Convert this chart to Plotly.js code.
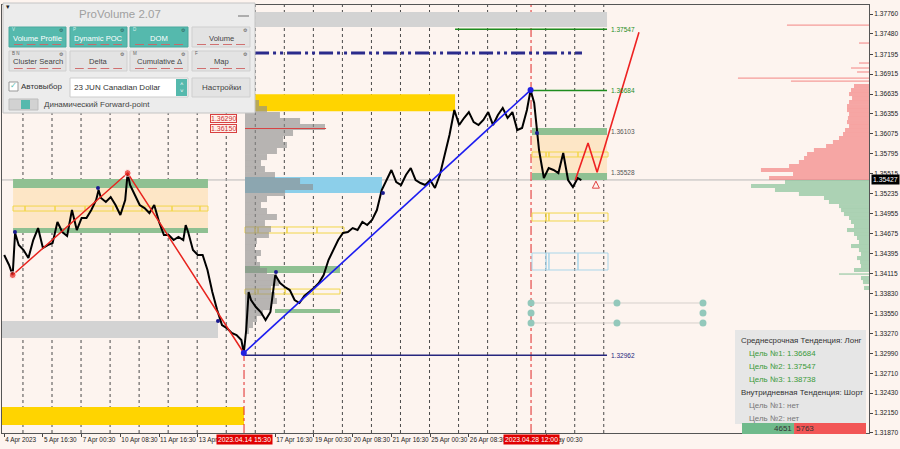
<!DOCTYPE html>
<html><head><meta charset="utf-8">
<script src="https://cdn.plot.ly/plotly-3.0.1.min.js"></script>
<style>html,body{margin:0;padding:0;background:#fdf4ef;} #chart{width:900px;height:449px;}</style>
</head><body><div id="chart"></div>
<script>
// ---------- DATA ----------
const xTickBars = [0,32,64,96,128,160,224,256,288,320,352,384,448];
const xTickText = ['4 Apr 2023','5 Apr 16:30','7 Apr 00:30','10 Apr 08:30','11 Apr 16:30','13 Apr 00:30','17 Apr 16:30','19 Apr 00:30','20 Apr 08:30','21 Apr 16:30','25 Apr 00:30','26 Apr 08:30','2 May 00:30'];
const yTickVals = [1.37760,1.37480,1.37195,1.36915,1.36635,1.36355,1.36075,1.35795,1.35515,1.35235,1.34955,1.34675,1.34395,1.34115,1.33830,1.33550,1.33270,1.32990,1.32710,1.32430,1.32150,1.31870];
const daySeparatorBars = [15.5,39.5,63.5,87.5,111.5,135.5,159.5,183.5,207.5,231.5,255.5,279.5,303.5,327.5,351.5,375.5,399.5,423.5,447.5,471.5,495.5];
const markerBars = [198.2, 435.4];
const markerText = ['2023.04.14 15:30','2023.04.28 12:00'];

const priceBars = [0,4,7,9,12,16,20,24,28,32,36,40,44,48,52,56,60,64,68,72,76,78,80,84,88,92,96,100,102,104,108,112,116,120,124,128,132,136,140,144,148,150,152,156,160,164,168,172,176,180,184,188,192,196,198,200,202,204,208,212,216,220,224,228,232,236,240,244,248,252,256,260,264,268,272,276,280,284,288,292,296,300,304,308,312,316,320,324,328,332,336,340,344,348,352,356,360,364,368,372,376,380,384,388,392,396,400,404,408,412,416,420,424,428,432,435,438,442,446,450,454,458,462,466,470,474,477];
const priceClose = [1.34372,1.34231,1.34090,1.34681,1.34512,1.34442,1.34329,1.34582,1.34751,1.34470,
1.34512,1.34540,1.34836,1.34695,1.34639,1.35004,1.34723,1.34892,1.34892,1.35004,
1.35145,1.35285,1.35173,1.35117,1.35187,1.35075,1.34934,1.35145,1.35524,1.35356,
1.35215,1.35075,1.35032,1.34962,1.35075,1.34836,1.34653,1.34653,1.34582,1.34625,
1.34582,1.34793,1.34695,1.34442,1.34372,1.34372,1.34161,1.33851,1.33598,1.33387,
1.33345,1.33275,1.33247,1.33176,1.32994,1.33317,1.33851,1.33739,1.33640,1.33570,
1.33458,1.33570,1.34090,1.33978,1.33922,1.33879,1.33739,1.33697,1.33795,1.33851,
1.33908,1.33978,1.34090,1.34301,1.34442,1.34582,1.34681,1.34695,1.34751,1.34723,
1.34836,1.34793,1.34864,1.35004,1.35285,1.35426,1.35567,1.35398,1.35356,1.35496,
1.35595,1.35426,1.35384,1.35356,1.35426,1.35314,1.35496,1.35778,1.36059,1.36410,
1.36199,1.36298,1.36382,1.36241,1.36199,1.36270,1.36382,1.36199,1.36340,1.36438,
1.36298,1.36382,1.36129,1.36157,1.36410,1.36691,1.36509,1.35848,1.35454,1.35595,
1.35567,1.35524,1.35806,1.35426,1.35328,1.35454,1.35426];
const currentPrice = 1.35427;

const zigzagBars = [7,102,198];
const zigzagPrice = [1.34090,1.35524,1.32994];
const trendBars = [198,435];
const trendPrice = [1.32994,1.36691];
const forecastBars = [472,482.5,490,524.6];
const forecastPrice = [1.35426,1.35946,1.35535,1.37504];
const signalBars = [8.9,77.5,176.7,224.6,313,440.3];
const signalPrice = [1.34695,1.35314,1.33444,1.34132,1.35243,1.36087];

// target / level lines
const levelPrice = [1.37547,1.36684,1.32962];
const levelStart = [372.6,435.4,199];
const levelEnd = [498.2,498.2,498.2];
const levelKind = ['green','green','navy'];
const levelLabels = [['1.37547',1.37547,'green'],['1.36684',1.36684,'green'],['1.36103',1.36103,'grey'],['1.35528',1.35528,'grey'],['1.32962',1.32962,'navy']];
const dashLevel = {price:1.37212, start:207.3, end:477.5};

// zones: x0, x1, y0, y1, kind
const zones = [
 [207.3,498.2,1.37577,1.37788,'gray'],
 [-2,176.7,1.33204,1.33444,'gray'],
 [207.3,372.6,1.36393,1.36632,'gold'],
 [-2,198.2,1.31981,1.32234,'gold'],
 [199,312.2,1.35243,1.35469,'sky'],
 [7.3,168.4,1.34751,1.35314,'peach'],
 [7.3,168.4,1.35314,1.35440,'green'],
 [7.3,168.4,1.34681,1.34751,'green'],
 [199,277.5,1.34118,1.34217,'green'],
 [223.8,277.5,1.33556,1.33612,'green'],
 [436.2,498.2,1.35524,1.36073,'peach'],
 [436.2,498.2,1.36059,1.36157,'green'],
 [436.2,498.2,1.35426,1.35524,'green']
];
// outlined segmented boxes: y0, y1, edges, kind
const outlineBoxes = [
 [1.34990,1.35060,[7.3,17.2,42.0,66.8,89.9,113.9,138.7,161.8,168.4],'yellow'],
 [1.34681,1.34766,[199,207.3,209.8,233.7,258.5,280.8],'yellow'],
 [1.33823,1.33893,[199,207.3,209.8,232.1,255.2,277.5],'yellow'],
 [1.35750,1.35820,[436.2,447.8,450.2,474.2,499.0],'yellow'],
 [1.34850,1.34962,[436.2,447.8,450.2,474.2,499.0],'yellow'],
 [1.34161,1.34400,[436.2,447.8,450.2,474.2,499.0],'blue']
];
const tealBars = [435.4,506.4,577.5,435.4,577.5,435.4,506.4,577.5];
const tealPrice = [1.33697,1.33697,1.33697,1.33556,1.33556,1.33416,1.33416,1.33416];

// left (session) volume profile
const profStartBar = 199;
const profLevels = [1.36593,1.36509,1.36424,1.36340,1.36256,1.36171,1.36087,1.36003,1.35918,1.35834,1.35749,1.35665,1.35581,1.35496,1.35412,1.35328,1.35243,1.35159,1.35075,1.34990,1.34906,1.34821,1.34737,1.34653,1.34568,1.34484,1.34400,1.34315,1.34231,1.34147,1.34062,1.33978,1.33894,1.33809,1.33725,1.33640,1.33556,1.33472,1.33387,1.33303];
const profVolume = [6.6,11.6,18.2,28.9,45.5,66.1,39.7,31.4,34.7,26.4,18.2,13.2,16.5,24.8,45.5,56.2,33.1,18.2,13.2,18.2,26.4,16.5,21.5,19.8,9.9,8.3,13.2,9.9,12.4,18.2,26.4,28.1,21.5,24.8,26.4,21.5,14.9,9.9,6.6,3.3];
const pocPrice = 1.36150, pocEnd = 266;
const profLabels = ['1.36290','1.36150'];
const profLabelPrice = [1.36290,1.36150];

// right (full) volume profile: sell side (above price) and buy side (below)
const sellLevels = [1.36748,1.36691,1.36635,1.36579,1.36523,1.36466,1.36410,1.36354,1.36298,1.36241,1.36185,1.36129,1.36073,1.36017,1.35960,1.35904,1.35848,1.35792,1.35735,1.35679,1.35623,1.35567,1.35510,1.35454];
const sellVolume = [12.4,14.9,16.5,14.0,16.5,18.2,18.2,16.5,17.4,18.2,16.5,19.8,21.5,24.8,29.8,35.5,45.5,51.2,53.7,57.9,66.1,89.3,62.8,82.6];
const sellThinLevels = [1.37605,1.37352,1.37071,1.37001,1.36945,1.36860,1.36818];
const sellThinVolume = [67.8,8.3,8.3,14.9,9.9,108.3,64.5];
const buyLevels = [1.35398,1.35342,1.35285,1.35229,1.35173,1.35117,1.35060,1.35004,1.34948,1.34892,1.34836,1.34779,1.34723,1.34667,1.34611,1.34554,1.34498,1.34442,1.34386,1.34329,1.34273,1.34217,1.34161,1.34048,1.33992,1.33908];
const buyVolume = [69.4,97.5,77.7,57.9,37.2,33.1,24.8,23.1,20.7,16.5,14.9,12.4,18.2,12.4,9.9,8.3,14.9,8.3,6.6,9.9,7.4,6.6,12.4,6.6,5.0,4.1];
const buyThinLevels = [1.34104];
const buyThinVolume = [24.8];
const deltaBuy = 4651, deltaSell = 5763;

const infoLines = [
 ['Среднесрочная Тенденция: Лонг','head'],
 ['Цель №1: 1.36684','goal'],
 ['Цель №2: 1.37547','goal'],
 ['Цель №3: 1.38738','goal'],
 ['Внутридневная Тенденция: Шорт','head'],
 ['Цель №1: нет','none'],
 ['Цель №2: нет','none']
];

// ---------- LAYOUT / STYLE ----------
const W=900,H=449,ML=2,MR=31,MT=5,MB=16;
const XMIN=-1.82, XMAX=714.7, YMIN=1.31869, YMAX=1.37887;
const PX = x => (x-ML)/(W-ML-MR);
const PY = y => 1-(y-MT)/(H-MT-MB);
const FONT = 'Liberation Sans, Arial, sans-serif';
const zoneColor = {gray:'#d3d3d3', gold:'#ffd400', sky:'#8ccfea', peach:'#fde6c6', green:'#8fc092'};
const outlineColor = {yellow:'#f2d64a', blue:'#a9d6ea'};
const levelColor = {green:'#1e8c1e', navy:'#26267e', grey:'#555555'};

const shapes = [];
const annotations = [];

daySeparatorBars.forEach(b => shapes.push({type:'line', xref:'x', yref:'paper', x0:b, x1:b, y0:0, y1:1, line:{color:'#4a4a4a', width:1, dash:'dot'}, layer:'below'}));
zones.forEach(z => shapes.push({type:'rect', xref:'x', yref:'y', x0:z[0], x1:z[1], y0:z[2], y1:z[3], fillcolor:zoneColor[z[4]], line:{width:0}, layer:'below'}));
outlineBoxes.forEach(ob => {
  const e = ob[2];
  for (let i=0;i<e.length-1;i++) shapes.push({type:'rect', xref:'x', yref:'y', x0:e[i], x1:e[i+1], y0:ob[0], y1:ob[1], line:{color:outlineColor[ob[3]], width:1}, fillcolor:'rgba(0,0,0,0)', layer:'below'});
});
shapes.push({type:'line', xref:'paper', yref:'y', x0:0, x1:1, y0:currentPrice, y1:currentPrice, line:{color:'#b8b8b8', width:1}, layer:'below'});
shapes.push({type:'line', xref:'x', yref:'y', x0:markerBars[0], x1:markerBars[0], y0:YMIN, y1:zigzagPrice[2], line:{color:'#e02828', width:1, dash:'dashdot'}, layer:'below'});
shapes.push({type:'line', xref:'x', yref:'paper', x0:markerBars[1], x1:markerBars[1], y0:0, y1:1, line:{color:'#e02828', width:1, dash:'dashdot'}, layer:'below'});

// ---------- TRACES ----------
const traces = [];
traces.push({type:'bar', orientation:'h', y:profLevels, x:profVolume, base:profStartBar, width:0.00085, marker:{color:'rgba(140,140,140,0.62)', line:{width:0}}});
traces.push({type:'bar', orientation:'h', y:sellLevels, x:sellVolume.map(v=>-v), base:XMAX, width:0.00057, marker:{color:'rgba(242,118,118,0.62)', line:{width:0}}});
traces.push({type:'bar', orientation:'h', y:sellThinLevels, x:sellThinVolume.map(v=>-v), base:XMAX, width:0.00018, marker:{color:'rgba(242,118,118,0.7)', line:{width:0}}});
traces.push({type:'bar', orientation:'h', y:buyLevels, x:buyVolume.map(v=>-v), base:XMAX, width:0.00057, marker:{color:'rgba(118,186,140,0.6)', line:{width:0}}});
traces.push({type:'bar', orientation:'h', y:buyThinLevels, x:buyThinVolume.map(v=>-v), base:XMAX, width:0.00018, marker:{color:'rgba(118,186,140,0.7)', line:{width:0}}});
traces.push({type:'scatter', mode:'lines', x:[profStartBar,pocEnd], y:[pocPrice,pocPrice], line:{color:'#d84040', width:1}});
levelPrice.forEach((p,i)=> traces.push({type:'scatter', mode:'lines', x:[levelStart[i],levelEnd[i]], y:[p,p], line:{color:levelColor[levelKind[i]], width: levelKind[i]==='navy'?1.3:1.6}}));
traces.push({type:'scatter', mode:'lines', x:[dashLevel.start,dashLevel.end], y:[dashLevel.price,dashLevel.price], line:{color:'#2b2b8c', width:3, dash:'14px,4px,3px,4px,3px,4px'}});
traces.push({type:'scatter', mode:'lines', x:[tealBars[0],tealBars[2]], y:[tealPrice[0],tealPrice[2]], line:{color:'#d6d0cc', width:1}});
traces.push({type:'scatter', mode:'lines', x:[tealBars[5],tealBars[7]], y:[tealPrice[5],tealPrice[7]], line:{color:'#d6d0cc', width:1}});
traces.push({type:'scatter', mode:'markers', x:tealBars, y:tealPrice, marker:{color:'#93c8bb', size:7}});
traces.push({type:'scatter', mode:'lines', x:priceBars, y:priceClose, line:{color:'#000000', width:2}});
traces.push({type:'scatter', mode:'lines+markers', x:zigzagBars, y:zigzagPrice, line:{color:'#e8241e', width:1.5}, marker:{color:'#e8241e', size:[7,7,0]}});
traces.push({type:'scatter', mode:'lines+markers', x:trendBars, y:trendPrice, line:{color:'#1c1cf0', width:1.6}, marker:{color:'#2020e0', size:6}});
traces.push({type:'scatter', mode:'lines', x:forecastBars, y:forecastPrice, line:{color:'#ee2222', width:1.6}});
traces.push({type:'scatter', mode:'markers', x:[489], y:[1.35410], marker:{symbol:'arrow-up-open', color:'#e04040', size:7, line:{width:1, color:'#e04040'}}});
traces.push({type:'scatter', mode:'markers', x:signalBars, y:signalPrice, marker:{color:'#1a1a90', size:4}});

// ---------- ANNOTATIONS ----------
levelLabels.forEach(l => annotations.push({xref:'x', yref:'y', x:500, y:l[1], text:l[0], showarrow:false, xanchor:'left', yanchor:'middle', font:{family:FONT, size:6.5, color:levelColor[l[2]]}}));
profLabels.forEach((t,i)=> annotations.push({xref:'x', yref:'y', x:192, y:profLabelPrice[i], text:t, showarrow:false, xanchor:'right', yanchor:'middle', font:{family:FONT, size:7, color:'#d03030'}, bordercolor:'#d84040', borderwidth:1, borderpad:0, bgcolor:'rgba(255,240,235,0.8)'}));
markerBars.forEach((b,i)=> annotations.push({xref:'x', yref:'paper', x:b, y:PY(439), text:markerText[i], showarrow:false, xanchor:'center', yanchor:'middle', bgcolor:'#e00000', font:{family:FONT, size:6.8, color:'#ffffff'}, borderpad:1}));
annotations.push({xref:'paper', yref:'y', x:1.002, y:currentPrice, text:currentPrice.toFixed(5), showarrow:false, xanchor:'left', yanchor:'middle', bgcolor:'#000000', font:{family:FONT, size:6.8, color:'#ffffff'}, borderpad:1});

// info box
shapes.push({type:'rect', xref:'paper', yref:'paper', x0:PX(735), x1:PX(866), y0:PY(424), y1:PY(330), fillcolor:'rgba(229,229,229,0.95)', line:{width:0}, layer:'above'});
const dTotal = deltaBuy+deltaSell;
const dx0 = PX(742), dx1 = PX(866);
const dmid = dx0 + (dx1-dx0)*deltaBuy/dTotal*0.94;
shapes.push({type:'rect', xref:'paper', yref:'paper', x0:dx0, x1:dmid, y0:PY(434), y1:PY(423), fillcolor:'#6fba8b', line:{width:0}, layer:'above'});
shapes.push({type:'rect', xref:'paper', yref:'paper', x0:dmid, x1:dx1, y0:PY(434), y1:PY(423), fillcolor:'#f25656', line:{width:0}, layer:'above'});
annotations.push({xref:'paper', yref:'paper', x:dmid, y:PY(428.5), text:String(deltaBuy), showarrow:false, xanchor:'right', yanchor:'middle', font:{family:FONT, size:8, color:'#333'}});
annotations.push({xref:'paper', yref:'paper', x:dmid, y:PY(428.5), text:String(deltaSell), showarrow:false, xanchor:'left', yanchor:'middle', font:{family:FONT, size:8, color:'#333'}});
const infoY = [340,353,366,379,392,405,418];
const infoStyle = {head:{x:739,c:'#333333'}, goal:{x:747,c:'#3a9a3a'}, none:{x:747,c:'#777777'}};
infoLines.forEach((l,i)=> annotations.push({xref:'paper', yref:'paper', x:PX(infoStyle[l[1]].x), y:PY(infoY[i]), text:l[0], showarrow:false, xanchor:'left', yanchor:'middle', font:{family:FONT, size:7.9, color:infoStyle[l[1]].c}}));

// ProVolume panel
function prect(x0,y0,x1,y1,fill,line){ shapes.push({type:'rect', xref:'paper', yref:'paper', x0:PX(x0), x1:PX(x1), y0:PY(y1), y1:PY(y0), fillcolor:fill, line:line?{color:line,width:1}:{width:0}, layer:'above'}); }
function ptext(x,y,t,size,color,anchor){ annotations.push({xref:'paper', yref:'paper', x:PX(x), y:PY(y), text:t, showarrow:false, xanchor:anchor||'center', yanchor:'middle', font:{family:FONT, size:size, color:color}, borderpad:0}); }
function pline(x0,y0,x1,y1,color,w){ shapes.push({type:'line', xref:'paper', yref:'paper', x0:PX(x0), x1:PX(x1), y0:PY(y0), y1:PY(y1), line:{color:color,width:w||1}, layer:'above'}); }
prect(3,3,255,113,'#ececec','#c4c4c4');
ptext(120,14,'ProVolume 2.07',11.5,'#a0a0a0');
pline(238,16,249,16,'#999',1.5);
ptext(8,6,'▾',7,'#222');
const TEAL='#55b9ad', BTN='#e3e3e3';
const btnRow1 = [[9,66,'Volume Profile',TEAL,'V'],[70,127,'Dynamic POC',TEAL,'P'],[130,188,'DOM',TEAL,'D'],[192,250,'Volume',BTN,'']];
const btnRow2 = [[9,66,'Cluster Search',BTN,'B N'],[70,127,'Delta',BTN,''],[130,188,'Cumulative Δ',BTN,'M'],[192,250,'Map',BTN,'F']];
[[btnRow1,27,47],[btnRow2,51,71]].forEach(([row,y0,y1])=>{
  row.forEach(b=>{
    prect(b[0],y0,b[1],y1,b[3],b[3]===TEAL?'#4aa99e':'#cfcfcf');
    ptext((b[0]+b[1])/2,y0+11,b[2],7.6,b[3]===TEAL?'#ffffff':'#444444');
    ptext(b[1]-5,y0+2.8,'⚙',5,b[3]===TEAL?'#2d5f59':'#555555');
    if(b[4]) ptext(b[0]+2,y0+2.8,b[4],4.5,b[3]===TEAL?'#d8f0ec':'#666666','left');
    const segs = 4, sw=(b[1]-b[0]-6)/segs;
    for(let s=0;s<segs;s++) pline(b[0]+3+s*sw+2,y1-2.5,b[0]+3+(s+1)*sw-2,y1-2.5,b[3]===TEAL?'#c46b6b':'#d07070',1);
  });
});
prect(9,82,18,91,'#ffffff','#999');
ptext(13.5,86,'✓',8,TEAL);
ptext(20,87,'Автовыбор',8,'#333','left');
prect(70,78,188,97,'#ffffff','#cccccc');
prect(176,79,187,96,TEAL,null);
ptext(181.5,84,'˄',6,'#fff');
ptext(181.5,91,'˅',6,'#fff');
ptext(73,87.5,'23 JUN Canadian Dollar',8,'#333','left');
prect(192,78,250,97,BTN,'#cfcfcf');
ptext(221,87.5,'Настройки',8,'#444');
prect(9,99,38,110,'#d2d2d2','#bdbdbd');
prect(21,100,30,109,TEAL,null);
ptext(43,104.5,'Динамический Forward-point',8,'#444','left');

const layout = {
  width:W, height:H, margin:{l:ML, r:MR, t:MT, b:MB, pad:0},
  paper_bgcolor:'#fdf4ef', plot_bgcolor:'#fdf4ef',
  showlegend:false, hovermode:false, barmode:'overlay',
  font:{family:FONT, size:7, color:'#222'},
  xaxis:{range:[XMIN,XMAX], showgrid:false, zeroline:false, showline:true, linecolor:'#555', linewidth:1, mirror:true,
         tickmode:'array', tickvals:xTickBars, ticktext:xTickText, ticks:'outside', ticklen:3, tickcolor:'#444', tickangle:0,
         ticklabelposition:'outside right', tickfont:{family:FONT, size:6.4, color:'#222'}},
  yaxis:{range:[YMIN,YMAX], side:'right', showgrid:false, zeroline:false, showline:true, linecolor:'#555', linewidth:1, mirror:true,
         tickmode:'array', tickvals:yTickVals, ticktext:yTickVals.map(v=>v.toFixed(5)), ticks:'outside', ticklen:3, tickcolor:'#444',
         tickfont:{family:FONT, size:6.6, color:'#222'}},
  shapes:shapes, annotations:annotations
};
Plotly.newPlot('chart', traces, layout, {staticPlot:true, displayModeBar:false});
</script></body></html>
